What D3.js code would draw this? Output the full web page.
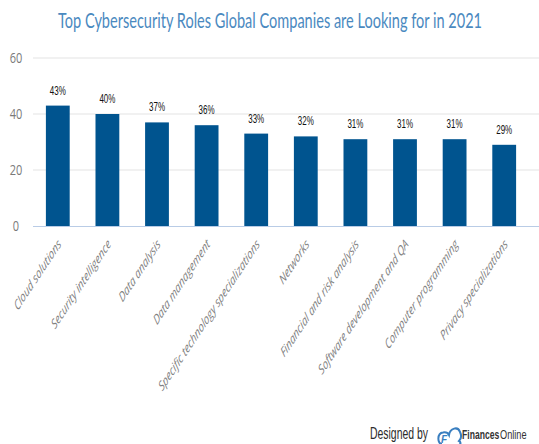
<!DOCTYPE html>
<html>
<head>
<meta charset="utf-8">
<script src="https://cdn.jsdelivr.net/npm/d3@7"></script>
<style>
  html, body { margin: 0; padding: 0; background: #fff; }
  svg { display: block; }
</style>
</head>
<body>
<svg id="chart" width="539" height="444"></svg>
<script>
// Roles and the share of companies looking for each (percent)
const roles = [
  "Cloud solutions",
  "Security intelligence",
  "Data analysis",
  "Data management",
  "Specific technology specializations",
  "Networks",
  "Financial and risk analysis",
  "Software development and QA",
  "Computer programming",
  "Privacy specializations"
];
const shares = [43, 40, 37, 36, 33, 32, 31, 31, 31, 29];
const yTicks = [0, 20, 40, 60];

const title = "Top Cybersecurity Roles Global Companies are Looking for in 2021";

const svg = d3.select("#chart");
const W = 539, H = 444;
// Text is drawn tall and narrow throughout the graphic
const STRETCH = 1.45;

const x = d3.scaleBand()
  .domain(roles)
  .range([33, 529])
  .paddingInner(0.52)
  .paddingOuter(0.26);

const y = d3.scaleLinear()
  .domain([0, 60])
  .range([226, 58]);

// Title
svg.append("text")
  .attr("transform", `translate(270,28) scale(1,${STRETCH})`)
  .attr("text-anchor", "middle")
  .attr("font-family", "Lato, sans-serif")
  .attr("font-size", 14)
  .attr("textLength", 424)
  .attr("lengthAdjust", "spacingAndGlyphs")
  .attr("fill", "#4a89c0")
  .text(title);

// Horizontal gridlines and y tick labels
const yAxis = d3.axisLeft(y).tickValues(yTicks).tickSize(0).tickPadding(0);
const gy = svg.append("g").call(yAxis);
gy.select(".domain").remove();
gy.selectAll(".tick line").remove();
gy.selectAll(".tick text")
  .attr("x", 0)
  .attr("dy", null)
  .attr("transform", `translate(16,4) scale(1,1.3)`)
  .attr("text-anchor", "middle")
  .attr("font-family", "'Open Sans', sans-serif")
  .attr("font-size", 11)
  .attr("fill", "#7a7a7a");

svg.append("g")
  .selectAll("line")
  .data(yTicks.filter(d => d !== 0))
  .join("line")
  .attr("x1", 33)
  .attr("x2", W)
  .attr("y1", d => y(d))
  .attr("y2", d => y(d))
  .attr("stroke", "#e3e3e3")
  .attr("stroke-width", 1.2);

// Bars
svg.append("g")
  .selectAll("rect")
  .data(shares)
  .join("rect")
  .attr("x", (d, i) => x(roles[i]))
  .attr("y", d => y(d))
  .attr("width", x.bandwidth())
  .attr("height", d => y(0) - y(d))
  .attr("fill", "#00548f");

// Baseline
svg.append("line")
  .attr("x1", 33)
  .attr("x2", W)
  .attr("y1", y(0) + 0.5)
  .attr("y2", y(0) + 0.5)
  .attr("stroke", "#b9cce6")
  .attr("stroke-width", 1.2);

// Value labels
svg.append("g")
  .selectAll("text")
  .data(shares)
  .join("text")
  .attr("transform", (d, i) =>
    `translate(${x(roles[i]) + x.bandwidth() / 2},${y(d) - 11}) scale(1,1.3)`)
  .attr("text-anchor", "middle")
  .attr("font-family", "'Liberation Sans', sans-serif")
  .attr("font-size", 10)
  .attr("textLength", 16)
  .attr("lengthAdjust", "spacingAndGlyphs")
  .attr("fill", "#111")
  .text(d => d + "%");

// Category labels, rotated
const xAxis = d3.axisBottom(x).tickSize(0).tickPadding(0);
const gx = svg.append("g").attr("transform", `translate(0,${y(0)})`).call(xAxis);
gx.select(".domain").remove();
gx.selectAll(".tick text")
  .attr("text-anchor", "end")
  .attr("transform", `translate(4,19) scale(1,1.5) rotate(-45)`)
  .attr("x", 0)
  .attr("y", 0)
  .attr("dy", null)
  .attr("font-family", "'Open Sans', sans-serif")
  .attr("font-style", "italic")
  .attr("font-size", 9.2)
  .attr("fill", "#808080");

// Footer credit
const foot = svg.append("g");
foot.append("text")
  .attr("transform", "translate(370,439) scale(1,1.35)")
  .attr("font-family", "'Liberation Sans', sans-serif")
  .attr("font-size", 12)
  .attr("textLength", 58)
  .attr("lengthAdjust", "spacingAndGlyphs")
  .attr("fill", "#2b2b2b")
  .text("Designed by");

// Cloud-shaped logo mark
const logo = foot.append("g").attr("transform", "translate(437,427)");
logo.append("path")
  .attr("d", "M5,17 C0,17 0,6 6,5.5 C9,5 11,6 12,8 C13,1 21,-1 23,5 C25,9 24,12 22,14 C24,15 24,17 22,18")
  .attr("fill", "none")
  .attr("stroke", "#3a7fc0")
  .attr("stroke-width", 2);
logo.append("text")
  .attr("x", 4)
  .attr("y", 16)
  .attr("font-family", "'Liberation Sans', sans-serif")
  .attr("font-weight", "bold")
  .attr("font-style", "italic")
  .attr("font-size", 10)
  .attr("fill", "#3a7fc0")
  .text("F");

// Brand name: bold first half, regular second half
foot.append("text")
  .attr("transform", "translate(462,439) scale(1,1.5)")
  .attr("font-family", "'Liberation Sans', sans-serif")
  .attr("font-weight", "bold")
  .attr("font-size", 8.6)
  .attr("fill", "#333")
  .text("Finances");
foot.append("text")
  .attr("transform", "translate(500,439) scale(1,1.4)")
  .attr("font-family", "'Liberation Sans', sans-serif")
  .attr("font-size", 9.2)
  .attr("fill", "#333")
  .text("Online");
</script>
</body>
</html>
